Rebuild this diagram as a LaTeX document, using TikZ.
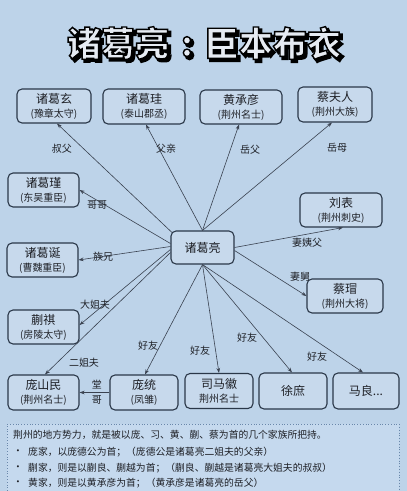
\documentclass[tikz,border=0pt]{standalone}
\usepackage{fontspec}
\setmainfont{Noto Sans CJK SC}
\usetikzlibrary{arrows.meta,calc}
\definecolor{bg}{RGB}{189,211,233}
\definecolor{boxf}{RGB}{199,217,236}
\definecolor{bord}{RGB}{42,55,72}
\definecolor{txt}{RGB}{30,32,38}
\definecolor{lin}{RGB}{58,66,80}
\definecolor{notef}{RGB}{197,217,238}
\definecolor{noted}{RGB}{105,135,170}
\definecolor{titlef}{RGB}{230,235,242}
\newcommand\subt[1]{{\fontsize{10}{12}\selectfont #1}}
\newcommand\strk[2]{\special{pdf:literal direct 2 Tr #1 w 0 0 0 RG}#2\special{pdf:literal direct 0 Tr}}
\newcommand\ttltext{诸葛亮\hspace{12pt}:\hspace{12pt}臣本布衣}
\begin{document}
\begin{tikzpicture}[x=1pt,y=-1pt,
  box/.style={draw=bord, fill=boxf, rounded corners=5pt, line width=1.1pt, inner sep=0pt,
    align=center, text=txt, font=\fontsize{12}{14}\selectfont},
  rel/.style={draw=lin, line width=0.6pt, -{Stealth[length=5pt,width=3.6pt]}},
  lab/.style={text=txt, font=\fontsize{10}{12}\selectfont, inner sep=0pt},
  ttl/.style={font=\fontsize{34}{40}\selectfont\bfseries, inner sep=0pt},
  note/.style={text=txt, font=\fontsize{9.8}{12}\selectfont, inner sep=0pt, anchor=west}]
\useasboundingbox (0,0) rectangle (407,491);
\fill[bg] (0,0) rectangle (407,491);

% title: shadow, then outlined light text
\node[ttl, text=black] (tshadow) at (206.5,45.5) {\strk{2.4}{\ttltext}};
\node[ttl, text=titlef] (title) at (204,43) {\strk{1.4}{\ttltext}};

% boxes
\node[box, minimum width=74pt, minimum height=34pt] (zgx) at (54,106) {诸葛玄\\\subt{(豫章太守)}};
\node[box, minimum width=82pt, minimum height=35pt] (zgg) at (144,106.5) {诸葛珪\\\subt{(泰山郡丞)}};
\node[box, minimum width=82pt, minimum height=34pt] (hcy) at (241,107) {黄承彦\\\subt{(荆州名士)}};
\node[box, minimum width=74pt, minimum height=35pt] (cfr) at (335,104.5) {蔡夫人\\\subt{(荆州大族)}};
\node[box, minimum width=71pt, minimum height=34pt] (zgj) at (43.5,190) {诸葛瑾\\\subt{(东吴重臣)}};
\node[box, minimum width=71pt, minimum height=34pt] (zgd) at (42.5,260) {诸葛诞\\\subt{(曹魏重臣)}};
\node[box, minimum width=71pt, minimum height=34pt] (kq) at (43.5,327) {蒯祺\\\subt{(房陵太守)}};
\node[box, minimum width=71pt, minimum height=35pt] (psm) at (43.5,392.5) {庞山民\\\subt{(荆州名士)}};
\node[box, minimum width=63pt, minimum height=33pt] (zgl) at (202.5,247.5) {诸葛亮};
\node[box, minimum width=82pt, minimum height=34pt] (lb) at (341,210) {刘表\\\subt{(荆州刺史)}};
\node[box, minimum width=76pt, minimum height=34pt] (cm) at (345,296) {蔡瑁\\\subt{(荆州大将)}};
\node[box, minimum width=68pt, minimum height=35pt] (pt) at (144,392.5) {庞统\\\subt{(凤雏)}};
\node[box, minimum width=68pt, minimum height=35pt] (smh) at (219,391) {司马徽\\\subt{荆州名士}};
\node[box, minimum width=68pt, minimum height=36pt] (xs) at (293,391) {徐庶};
\node[box, minimum width=66pt, minimum height=36pt] (ml) at (366,391) {马良...};

% start points on 诸葛亮
\coordinate (s1) at ($(zgl.north west)+(1.5,2)$);
\coordinate (sL1) at ($(zgl.west)+(0,-4)$);
\coordinate (sL2) at ($(zgl.west)+(0,-1)$);
\coordinate (sL3) at ($(zgl.west)+(0,2)$);
\coordinate (sL4) at ($(zgl.west)+(0,5)$);
\coordinate (sR2) at ($(zgl.east)+(0,3)$);

% connectors
\draw[rel] (s1) -- ($(zgx.south)+(3,0)$);
\draw[rel] (zgl.north) -- ($(zgg.south)+(2,0)$);
\draw[rel] (zgl.north) -- ($(hcy.south)+(-2,0)$);
\draw[rel] (zgl.north) -- ($(cfr.south)+(-3,0)$);
\draw[rel] (sL1) -- (zgj.east);
\draw[rel] (sL2) -- (zgd.east);
\draw[rel] (sL3) -- ($(kq.east)+(0,-2)$);
\draw[rel] (sL4) -- ($(psm.north)+(1.5,0)$);
\draw[rel] (zgl.east) -- ($(lb.south)+(2,0)$);
\draw[rel] (sR2) -- (cm.west);
\draw[rel] (zgl.south) -- ($(pt.north)+(1,0)$);
\draw[rel] (zgl.south) -- (smh.north);
\draw[rel] (zgl.south) -- ($(xs.north)+(-1,0)$);
\draw[rel] (zgl.south) -- ($(ml.north)+(-3,0)$);
\draw[rel] (pt.west) -- (psm.east);

% labels
\node[lab] (l1) at (62,149) {叔父};
\node[lab] (l2) at (166,149) {父亲};
\node[lab] (l3) at (250,150) {岳父};
\node[lab] (l4) at (337,148) {岳母};
\node[lab] (l5) at (97,205) {哥哥};
\node[lab] (l6) at (103,257) {族兄};
\node[lab] (l7) at (95,305) {大姐夫};
\node[lab] (l8) at (84,363) {二姐夫};
\node[lab, align=center, font=\fontsize{10}{15}\selectfont] (l9) at (97,392.5) {堂\\哥};
\node[lab] (l10) at (307,243) {妻姨父};
\node[lab] (l11) at (300,277) {妻舅};
\node[lab] (l12) at (148,346) {好友};
\node[lab] (l13) at (200,351) {好友};
\node[lab] (l14) at (247,338) {好友};
\node[lab] (l15) at (317,357) {好友};

% note box
\fill[notef] (7,424) rectangle (399,491);
\draw[noted, line width=0.8pt, dotted] (7,491) -- (7,424) -- (399,424) -- (399,491);
\node[note] (n1) at (13,435) {荆州的地方势力，就是被以庞、习、黄、蒯、蔡为首的几个家族所把持。};
\node[note] (b2) at (13,452) {•};
\node[note] (n2) at (28,452) {庞家，以庞德公为首；（庞德公是诸葛亮二姐夫的父亲）};
\node[note] (b3) at (13,468) {•};
\node[note] (n3) at (28,468) {蒯家，则是以蒯良、蒯越为首；（蒯良、蒯越是诸葛亮大姐夫的叔叔）};
\node[note] (b4) at (13,483) {•};
\node[note] (n4) at (28,483) {黄家，则是以黄承彦为首；（黄承彦是诸葛亮的岳父）};
\end{tikzpicture}
\end{document}
